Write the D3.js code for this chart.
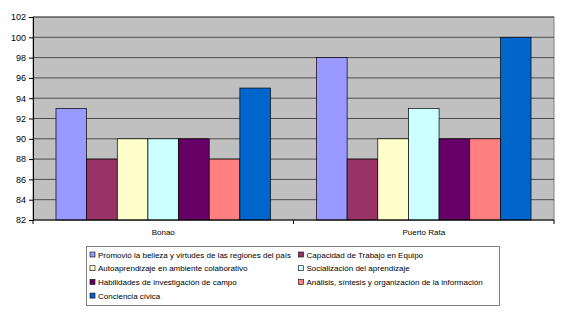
<!DOCTYPE html>
<html><head><meta charset="utf-8">
<script src="https://cdn.jsdelivr.net/npm/d3@7"></script>
<style>body{margin:0;background:#fff}svg{display:block;font-family:"Liberation Sans",Arial,sans-serif}</style>
</head><body><svg id="c" width="566" height="326"></svg>
<script>
const categories = ["Bonao", "Puerto Rata"];
const seriesNames = [
  "Promovió la belleza y virtudes de las regiones del país",
  "Capacidad de Trabajo en Equipo",
  "Autoaprendizaje en ambiente colaborativo",
  "Socialización del aprendizaje",
  "Habilidades de investigación de campo",
  "Análisis, síntesis y organización de la información",
  "Conciencia cívica"
];
const bonaoValues = [93, 88, 90, 90, 90, 88, 95];
const puertoValues = [98, 88, 90, 93, 90, 90, 100];
const yTicks = [82, 84, 86, 88, 90, 92, 94, 96, 98, 100, 102];
const colors = ["#9999FF", "#993366", "#FFFFCC", "#CCFFFF", "#660066", "#FF8080", "#0066CC"];

const values = [bonaoValues, puertoValues];
const svg = d3.select("#c");
const L = 33, R = 554, T = 17, B = 220;

const y = d3.scaleLinear().domain([82, 102]).range([B, T]);
const x0 = d3.scaleBand().domain(categories).range([L, R]).paddingInner(0).paddingOuter(0);
const bw = x0.bandwidth();
const groupW = bw * 7 / 8.5;
const x1 = d3.scaleBand().domain(d3.range(7)).range([0, groupW]).padding(0);

svg.append("rect").attr("x", L).attr("y", T).attr("width", R - L).attr("height", B - T)
  .attr("fill", "#C0C0C0").attr("stroke", "#808080").attr("stroke-width", 1);

svg.append("g").selectAll("line").data(yTicks.slice(1)).join("line")
  .attr("x1", L).attr("x2", R).attr("y1", d => y(d)).attr("y2", d => y(d))
  .attr("stroke", "#000").attr("stroke-opacity", 0.6).attr("stroke-width", 1);

categories.forEach((c, ci) => {
  const g = svg.append("g").attr("transform", `translate(${x0(c) + (bw - groupW) / 2},0)`);
  g.selectAll("rect").data(values[ci]).join("rect")
    .attr("x", (d, i) => x1(i)).attr("width", x1.bandwidth())
    .attr("y", d => y(d)).attr("height", d => B - y(d))
    .attr("fill", (d, i) => colors[i]).attr("stroke", "#000").attr("stroke-width", 0.7);
});

const yAxis = d3.axisLeft(y).tickValues(yTicks).tickSize(4).tickPadding(3);
const ya = svg.append("g").attr("transform", `translate(${L},0)`).call(yAxis);
ya.select(".domain").attr("stroke", "#000");
ya.selectAll("text").attr("font-size", 9).attr("fill", "#000");

const xa = svg.append("g").attr("transform", `translate(0,${B})`);
xa.append("line").attr("x1", L).attr("x2", R).attr("stroke", "#000");
xa.selectAll("line.t").data([L, x0(categories[1]), R]).join("line").attr("class", "t")
  .attr("x1", d => d).attr("x2", d => d).attr("y1", 0).attr("y2", 4).attr("stroke", "#000");
xa.selectAll("text").data(categories).join("text")
  .attr("x", d => x0(d) + bw / 2).attr("y", 15).attr("text-anchor", "middle")
  .attr("font-size", 8).text(d => d);

// legend
const lg = svg.append("g");
lg.append("rect").attr("x", 86.5).attr("y", 246.5).attr("width", 413).attr("height", 59)
  .attr("fill", "#fff").attr("stroke", "#808080");
seriesNames.forEach((n, i) => {
  const col = i % 2, row = Math.floor(i / 2);
  const lx = col === 0 ? 90 : 298.5, ly = 255 + row * 13.7;
  lg.append("rect").attr("x", lx).attr("y", ly - 3).attr("width", 5).attr("height", 5)
    .attr("fill", colors[i]).attr("stroke", "#000").attr("stroke-width", 0.6);
  lg.append("text").attr("x", lx + 8).attr("y", ly + 2.5).attr("font-size", 8).text(n);
});
</script></body></html>
